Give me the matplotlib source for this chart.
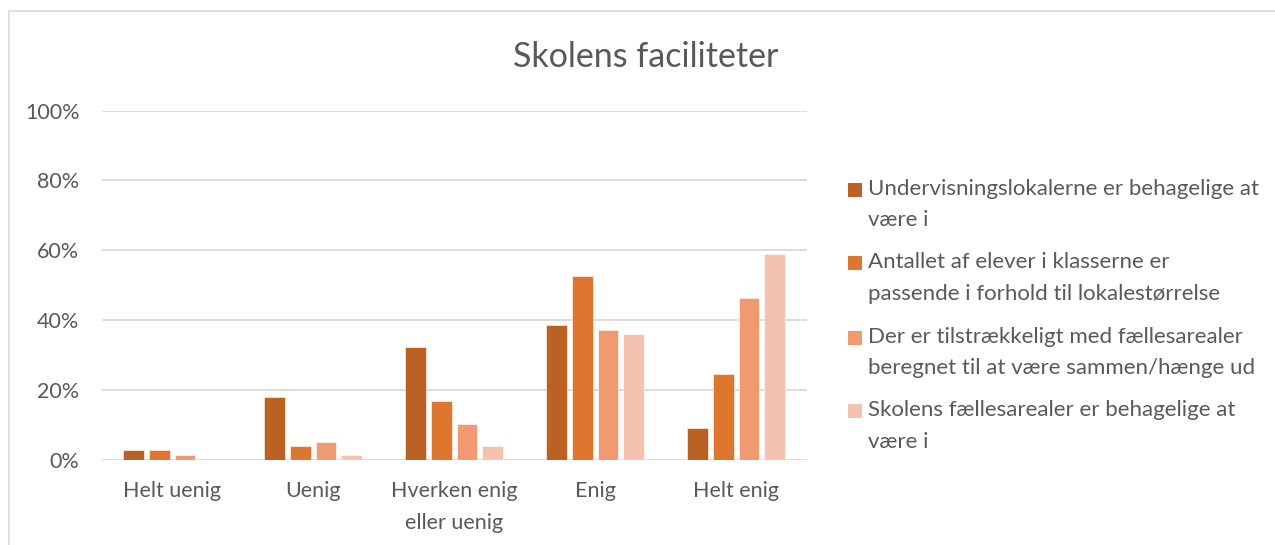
import matplotlib
matplotlib.use("Agg")
import matplotlib.pyplot as plt
from matplotlib.patches import Rectangle
import numpy as np

categories = ["Helt uenig", "Uenig", "Hverken enig\neller uenig", "Enig", "Helt enig"]
series_labels = [
    "Undervisningslokalerne er behagelige at\nvære i",
    "Antallet af elever i klasserne er\npassende i forhold til lokalestørrelse",
    "Der er tilstrækkeligt med fællesarealer\nberegnet til at være sammen/hænge ud",
    "Skolens fællesarealer er behagelige at\nvære i",
]
s1 = [2.7, 18.1, 32.2, 38.5, 9.0]
s2 = [2.7, 3.9, 16.8, 52.7, 24.5]
s3 = [1.35, 5.2, 10.2, 37.2, 46.2]
s4 = [0.0, 1.3, 3.8, 35.9, 59.0]
yticks = [0, 20, 40, 60, 80, 100]
ytick_labels = ["0%", "20%", "40%", "60%", "80%", "100%"]
title = "Skolens faciliteter"

colors = ["#BA6123", "#DE762F", "#F09A71", "#F5C2AF"]
text_color = "#595959"
grid_color = "#D9D9D9"
FONT = ["Lato", "DejaVu Sans"]
plt.rcParams["font.family"] = FONT

W, H = 1275, 545
fig = plt.figure(figsize=(W / 100, H / 100), dpi=100)

# chart frame (left and top borders)
fig.add_artist(Rectangle((8.5 / W, -0.1), 1.2, (H - 11) / H + 0.1,
                         transform=fig.transFigure, fill=False,
                         edgecolor=grid_color, linewidth=1.2))

ax = fig.add_axes([101.7 / W, (H - 459.7) / H, (806.7 - 101.7) / W, (459.7 - 110.7) / H])

x = np.arange(len(categories))
step = 0.182
width = 0.145
for i, (vals, c) in enumerate(zip([s1, s2, s3, s4], colors)):
    ax.bar(x + (i - 1.5) * step, vals, width=width, color=c, edgecolor="white",
           linewidth=0.4, zorder=3)

ax.set_xlim(-0.5, len(categories) - 0.5)
ax.set_ylim(0, 100)
ax.set_yticks(yticks)
ax.set_yticklabels(ytick_labels)
ax.set_xticks(x)
ax.set_xticklabels(categories, linespacing=1.8)
ax.tick_params(axis="both", length=0, labelsize=15.5, colors=text_color)
ax.tick_params(axis="y", pad=16)
ax.tick_params(axis="x", pad=15)
ax.grid(axis="y", color=grid_color, linewidth=1.3, zorder=0)
for s in ax.spines.values():
    s.set_visible(False)

fig.text(646 / W, 1 - 57 / H, title, ha="center", va="center", fontsize=24.5,
         color=text_color)

# legend drawn manually (marker aligned to first line)
leg_base = [197, 270, 345, 418]
line_gap = 29.5
for lab, c, yy in zip(series_labels, colors, leg_base):
    fig.add_artist(Rectangle((848 / W, 1 - yy / H), 14 / W, 14 / H,
                             transform=fig.transFigure, facecolor=c,
                             edgecolor="none"))
    fig.text(868 / W, 1 - (yy + line_gap) / H, lab, ha="left", va="baseline",
             fontsize=16, color=text_color, linespacing=1.72)

fig.savefig("out.png", dpi=100)
